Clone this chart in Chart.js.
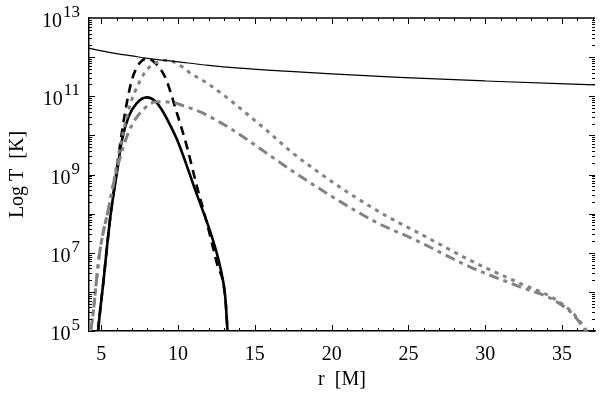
<!DOCTYPE html>
<html>
<head>
<meta charset="utf-8">
<script src="https://cdn.jsdelivr.net/npm/chart.js@4.4.1/dist/chart.umd.min.js"></script>
<style>
html, body { margin: 0; padding: 0; background: #fff; }
#wrap { width: 600px; height: 396px; }
</style>
</head>
<body>
<div id="wrap"><canvas id="c"></canvas></div>
<script>
// r in units of M, temperature as log10(T / K)
const thinR = [4.2, 5, 6, 7, 8, 10, 12, 14, 17, 20, 24.4, 30, 37.2];
const thinLogT = [12.23, 12.16, 12.09, 12.03, 11.97, 11.88, 11.79, 11.72, 11.64, 11.57, 11.48, 11.39, 11.29];

const solidR = [4.79, 4.93, 5.15, 5.33, 5.6, 6.0, 6.35, 6.78, 7.3, 7.97, 8.5, 8.95, 9.5, 10.03, 11.12, 12.2, 12.74, 13.07, 13.22];
const solidLogT = [5.0, 5.54, 6.3, 6.99, 7.95, 9.0, 9.88, 10.48, 10.82, 10.97, 10.88, 10.65, 10.25, 9.80, 8.60, 7.41, 6.64, 5.88, 5.0];

const dashR = [4.79, 4.93, 5.15, 5.33, 5.6, 5.98, 6.35, 6.74, 7.06, 7.5, 8.0, 8.58, 9.2, 9.9, 10.55, 11.23, 11.77, 12.53, 13.07, 13.22];
const dashLogT = [5.0, 5.54, 6.3, 6.99, 7.95, 9.04, 10.1, 10.99, 11.5, 11.85, 11.97, 11.82, 11.45, 10.6, 9.75, 8.69, 7.92, 6.73, 5.88, 5.0];

const dotR = [4.28, 4.35, 4.89, 5.54, 5.87, 6.19, 6.84, 7.49, 8.04, 8.6, 9.2, 9.6, 10.32, 10.79, 11.45, 12.09, 13.39, 14.69, 16.0, 17.3, 18.71, 20.99, 23.48, 25.98, 29.0, 32.26, 34.43, 35.73, 36.49, 36.6];
const dotLogT = [5.0, 5.1, 6.99, 8.26, 8.94, 9.63, 10.73, 11.37, 11.71, 11.86, 11.92, 11.9, 11.74, 11.59, 11.44, 11.28, 10.9, 10.48, 10.05, 9.6, 9.18, 8.56, 7.96, 7.44, 6.81, 6.22, 5.84, 5.45, 5.07, 5.0];

const dashDotR = [4.28, 4.35, 4.89, 5.54, 5.87, 6.2, 6.6, 7.06, 7.71, 8.58, 9.66, 10.25, 11.66, 13.39, 14.69, 15.78, 18.06, 20.55, 22.94, 25.43, 29.0, 32.26, 34.43, 35.73, 36.55];
const dashDotLogT = [5.0, 5.1, 6.99, 8.26, 8.9, 9.4, 9.9, 10.31, 10.65, 10.86, 10.84, 10.77, 10.56, 10.18, 9.84, 9.54, 8.93, 8.31, 7.77, 7.33, 6.64, 6.13, 5.8, 5.42, 5.0];

const xTicks = [5, 10, 15, 20, 25, 30, 35];
const yExponents = [5, 7, 9, 11, 13];

const serif = "'Liberation Serif', 'DejaVu Serif', serif";
const gray = '#828282';

function pts(r, logT) {
  return r.map((v, i) => ({ x: v, y: Math.pow(10, logT[i]) }));
}

// top frame line, inward tick marks and 10^n labels like the original plot
const frame = {
  id: 'frame',
  afterDraw(chart) {
    const ctx = chart.ctx, a = chart.chartArea;
    const xs = chart.scales.x, ys = chart.scales.y;
    ctx.save();
    ctx.strokeStyle = '#000';
    ctx.lineWidth = 1.5;
    ctx.beginPath();
    ctx.moveTo(a.left, a.top);
    ctx.lineTo(a.right, a.top);
    ctx.stroke();
    ctx.lineWidth = 1;
    ctx.beginPath();
    for (let r = 5; r <= 37; r++) {
      const px = Math.round(xs.getPixelForValue(r)) + 0.5;
      const len = r % 5 === 0 ? 6 : 3;
      ctx.moveTo(px, a.bottom); ctx.lineTo(px, a.bottom - len);
      ctx.moveTo(px, a.top); ctx.lineTo(px, a.top + len);
    }
    for (let e = 5; e < 13; e++) {
      for (let k = 1; k <= 9; k++) {
        const py = Math.round(ys.getPixelForValue(k * Math.pow(10, e))) + 0.5;
        const len = k === 1 ? 6 : 3;
        ctx.moveTo(a.left, py); ctx.lineTo(a.left + len, py);
        ctx.moveTo(a.right, py); ctx.lineTo(a.right - len, py);
      }
    }
    ctx.stroke();

    ctx.fillStyle = '#000';
    ctx.textAlign = 'right';
    ctx.textBaseline = 'alphabetic';
    const right = a.left - 9;
    yExponents.forEach(e => {
      const py = ys.getPixelForValue(Math.pow(10, e));
      ctx.font = '17px ' + serif;
      const ex = String(e);
      const w = ctx.measureText(ex).width;
      ctx.fillText(ex, right, py - 1);
      ctx.font = '20px ' + serif;
      ctx.fillText('10', right - w - 1, py + 9);
    });
    ctx.restore();
  }
};

new Chart(document.getElementById('c').getContext('2d'), {
  type: 'line',
  data: {
    datasets: [
      { data: pts(thinR, thinLogT), borderColor: '#000', borderWidth: 1.2 },
      { data: pts(dotR, dotLogT), borderColor: gray, borderWidth: 3, borderDash: [4, 5] },
      { data: pts(dashDotR, dashDotLogT), borderColor: gray, borderWidth: 3, borderDash: [10, 5, 4, 5] },
      { data: pts(dashR, dashLogT), borderColor: '#000', borderWidth: 2.6, borderDash: [9, 6] },
      { data: pts(solidR, solidLogT), borderColor: '#000', borderWidth: 2.6 }
    ]
  },
  options: {
    responsive: true,
    maintainAspectRatio: false,
    animation: false,
    layout: { padding: { top: 18, right: 5, left: 0, bottom: 0 } },
    elements: {
      point: { radius: 0 },
      line: { cubicInterpolationMode: 'monotone', fill: false }
    },
    plugins: { legend: { display: false }, tooltip: { enabled: false } },
    scales: {
      x: {
        type: 'linear',
        min: 4.2,
        max: 37.15,
        afterBuildTicks: s => { s.ticks = xTicks.map(v => ({ value: v })); },
        afterFit: s => { s.height = 65; },
        grid: { display: false, drawTicks: false },
        border: { display: true, color: '#000', width: 1.5 },
        ticks: { color: '#000', padding: 12, font: { family: serif, size: 20 } },
        title: { display: true, text: 'r  [M]', color: '#000', padding: { top: 3 }, font: { family: serif, size: 20 } }
      },
      y: {
        type: 'logarithmic',
        min: 1e5,
        max: 1e13,
        afterFit: s => { s.width = 89; },
        grid: { display: false, drawTicks: false },
        border: { display: true, color: '#000', width: 1.5 },
        ticks: { display: false },
        title: { display: true, text: 'Log T  [K]', color: '#000', padding: { top: 6, bottom: 0 }, font: { family: serif, size: 20 } }
      }
    }
  },
  plugins: [frame]
});
</script>
</body>
</html>
